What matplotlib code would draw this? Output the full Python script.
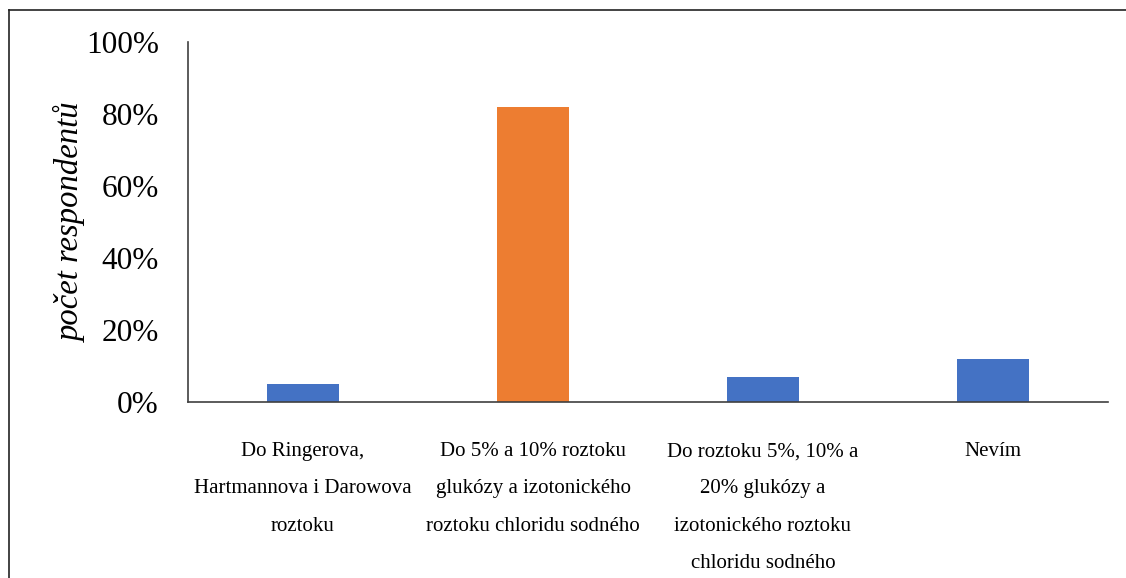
import matplotlib
matplotlib.use("Agg")
import matplotlib.pyplot as plt
from matplotlib.lines import Line2D
from matplotlib.ticker import PercentFormatter

categories = [
    "Do Ringerova,\nHartmannova i Darowova\nroztoku",
    "Do 5% a 10% roztoku\nglukózy a izotonického\nroztoku chloridu sodného",
    "Do roztoku 5%, 10% a\n20% glukózy a\nizotonického roztoku\nchloridu sodného",
    "Nevím",
]
values = [5, 82, 7, 12]
colors = ["#4472C4", "#ED7D31", "#4472C4", "#4472C4"]
y_ticks = [0, 20, 40, 60, 80, 100]

plt.rcParams["font.family"] = ["Liberation Serif", "DejaVu Serif"]

fig = plt.figure(figsize=(11.26, 5.78), dpi=100)
ax = fig.add_axes([188 / 1126, 1 - 402 / 578, 920 / 1126, 360 / 578])

x = list(range(len(categories)))
ax.bar(x, values, width=0.313, color=colors, zorder=2)

ax.set_xlim(-0.5, len(categories) - 0.5)
ax.set_ylim(0, 100)
ax.set_yticks(y_ticks)
ax.yaxis.set_major_formatter(PercentFormatter(decimals=0))
ax.tick_params(axis="y", length=0, pad=21, labelsize=22.5)
ax.set_xticks(x)
ax.set_xticklabels(categories, fontsize=15, linespacing=2.3, va="top")
ax.tick_params(axis="x", length=0, pad=29)

for side in ["top", "right"]:
    ax.spines[side].set_visible(False)
for side in ["left", "bottom"]:
    ax.spines[side].set_color("#404040")
    ax.spines[side].set_linewidth(1.2)

ax.set_ylabel("počet respondentů", fontsize=23.5, style="italic", labelpad=-1)

# frame: top and left edges only
fx, fy = 9 / 1126, 1 - 10 / 578
fig.lines.append(Line2D([fx, 1.0], [fy, fy], transform=fig.transFigure,
                        color="#222222", linewidth=1.2))
fig.lines.append(Line2D([fx, fx], [0.0, fy], transform=fig.transFigure,
                        color="#222222", linewidth=1.2))

fig.savefig("out.png", dpi=100)
plt.close(fig)
